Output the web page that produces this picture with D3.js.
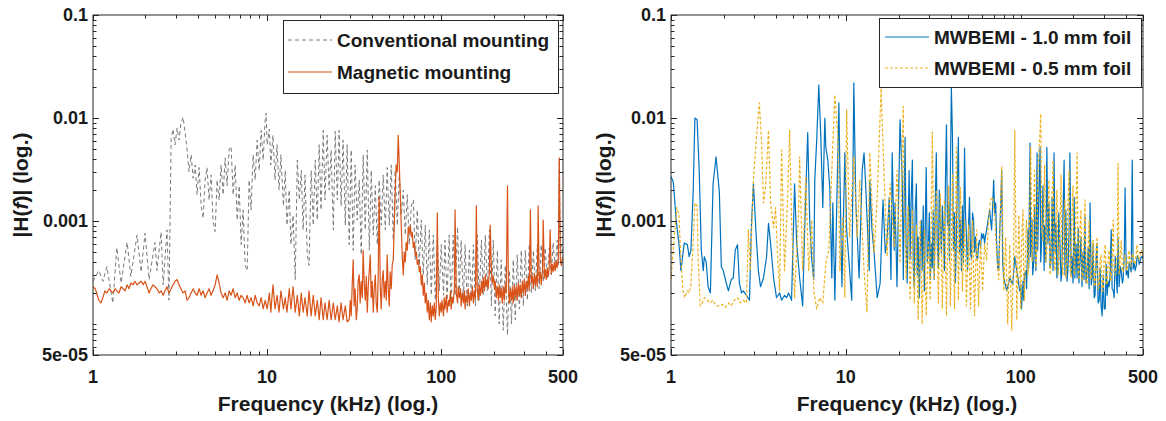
<!DOCTYPE html>
<html><head><meta charset="utf-8">
<script src="https://cdn.jsdelivr.net/npm/d3@7"></script>
<style>
body{margin:0;background:#fff}
svg{display:block}
text{font-family:"Liberation Sans",Arial,sans-serif;font-weight:bold;fill:#1a1a1a}
</style>
</head><body>
<svg id="chart" width="1166" height="421"></svg>
<script>
// Each point: [frequency in kHz, |H(f)| in units of 1e-4]
const conventional = [[1,2.6],[1.08,3.3],[1.14,2.6],[1.2,3.6],[1.3,1.6],[1.37,5.5],[1.45,2.5],[1.57,6.2],[1.65,2.9],[1.79,7.3],[1.89,3.2],[1.99,7.6],[2.1,2.7],[2.27,6.2],[2.33,3.3],[2.46,7.8],[2.53,2.4],[2.66,8.2],[2.73,1.7],[2.81,63],[2.88,78],[2.96,55],[3.04,80],[3.12,61],[3.2,90],[3.29,102],[3.38,72],[3.47,49],[3.56,30],[3.66,44],[3.76,26],[3.86,35],[3.96,18],[4.07,33],[4.18,14],[4.29,10.6],[4.4,25],[4.52,33],[4.64,16],[4.77,28],[4.89,10],[5.03,7.9],[5.16,25],[5.3,16],[5.44,35],[5.59,18],[5.74,41],[5.89,22],[6.05,49],[6.21,53],[6.38,18],[6.55,35],[6.73,10.2],[6.91,22],[7.09,5.9],[7.28,12.8],[7.48,3.7],[7.68,3.3],[7.88,25],[8.09,12.8],[8.31,44],[8.54,25],[8.76,61],[9,31],[9.24,76],[9.49,39],[9.74,96],[9.87,112],[10,55],[10.3,78],[10.5,35],[10.8,68],[11.1,25],[11.4,55],[11.7,20],[12,44],[12.4,14],[12.7,31],[13,9.1],[13.4,20],[13.7,5.9],[14.1,11.4],[14.5,2.7],[14.9,39],[15.3,16],[15.7,31],[16.1,8.2],[16.5,28],[17,4.7],[17.4,3.7],[17.9,31],[18.4,9.1],[18.9,39],[19.4,10.2],[19.9,55],[20.4,12.8],[21,76],[21.5,16],[22.1,68],[22.7,20],[23.3,49],[24,8.2],[24.6,74],[25.3,16],[25.9,76],[26.6,14],[27.3,61],[28.1,9.1],[28.8,55],[29.6,5.9],[30.4,49],[31.2,5.2],[32,35],[32.9,10.2],[33.8,25],[34.7,4.7],[35.6,44],[36.6,8.2],[37.6,49],[38.6,5.2],[39.6,31],[40.7,7.3],[41.8,22],[42.9,5.9],[44,25],[45.2,9.1],[46.4,28],[47.7,8.2],[48.9,33],[50.3,9.1],[51.6,35],[53,6.5],[54.4,31],[55.9,9.1],[57.4,28],[58.9,11.4],[60.5,20],[62.1,7.3],[63.8,18],[65.5,5.9],[67.3,14],[69.1,16],[70.9,4.2],[72.8,12.8],[74.8,3.7],[76.8,10.2],[78.8,3],[80.9,9.1],[83.1,2.4],[85.4,8.2],[87.6,1.9],[90,7.3],[92.4,1.7],[94.9,6.5],[97.4,2.1],[100,5.9],[103,1.9],[105,6.5],[108,1.7],[111,7.3],[114,1.5],[117,7.3],[120,1.9],[124,8.7],[127,2.1],[130,6.5],[134,1.7],[137,5.9],[141,1.5],[145,5.2],[149,1.7],[153,5.9],[157,1.5],[161,7.3],[165,1.7],[170,6.5],[174,1.9],[179,7.3],[184,2.1],[189,8.2],[194,1.5],[199,6.5],[204,1.2],[210,5.2],[215,1],[221,4.2],[227,0.87],[233,3.7],[240,0.78],[246,3.3],[253,1],[259,4.2],[266,1.1],[273,4.7],[281,1.4],[288,5.2],[296,1.5],[304,5.2],[312,1.7],[320,5.9],[329,2],[338,5.2],[347,2.1],[356,5.9],[365,2.2],[375,5.9],[385,2.6],[395,5.5],[406,2.8],[417,5.5],[428,3],[439,6.2],[451,3.3],[463,6.5],[470,3.7],[476,39],[483,4.2],[489,5.9],[500,4.7]];

const magnetic = [[1,2.3],[1.03,2.2],[1.05,2],[1.08,1.7],[1.11,1.6],[1.14,1.8],[1.17,2.1],[1.2,2],[1.24,2.2],[1.27,2.1],[1.3,2],[1.34,2.2],[1.37,2.1],[1.41,2],[1.45,2.3],[1.49,2.2],[1.53,2.1],[1.57,2.4],[1.61,2.2],[1.65,2.5],[1.7,2.4],[1.74,2.6],[1.79,2.4],[1.84,2.5],[1.89,2.6],[1.94,2.4],[1.99,2.6],[2.04,2.3],[2.1,2],[2.15,2.2],[2.21,2.4],[2.27,2.3],[2.33,2.2],[2.4,2],[2.46,2.1],[2.53,1.9],[2.59,2.1],[2.66,2.3],[2.73,2],[2.81,2.2],[2.88,2.4],[2.96,2.6],[3.04,2.7],[3.12,2.4],[3.2,2.2],[3.29,2],[3.38,2.1],[3.47,1.7],[3.56,1.8],[3.66,2],[3.76,2.2],[3.86,2],[3.96,1.9],[4.07,2.2],[4.18,1.9],[4.29,2.1],[4.4,1.8],[4.52,2],[4.64,2.2],[4.77,1.9],[4.89,2.1],[5.03,2.4],[5.16,3],[5.3,2.5],[5.44,2],[5.59,1.8],[5.74,2],[5.89,1.7],[6.05,2.1],[6.21,1.9],[6.38,2.2],[6.55,1.8],[6.73,2],[6.91,1.7],[7.09,1.9],[7.28,1.8],[7.48,1.6],[7.68,1.9],[7.88,1.6],[8.09,1.8],[8.31,1.5],[8.54,1.9],[8.76,1.6],[9,1.5],[9.24,1.8],[9.49,1.4],[9.74,1.7],[10,1.4],[10.3,2],[10.5,1.3],[10.8,2.4],[11.1,1.4],[11.4,1.9],[11.7,1.3],[12,2.1],[12.4,1.4],[12.7,1.8],[13,1.3],[13.4,2.2],[13.7,1.4],[14.1,2.3],[14.5,1.3],[14.9,1.9],[15.3,1.2],[15.7,2],[16.1,1.3],[16.5,1.8],[17,1.2],[17.4,2.1],[17.9,1.2],[18.4,1.9],[18.9,1.2],[19.4,1.7],[19.9,1.1],[20.4,1.8],[21,1.1],[21.5,1.6],[22.1,1.1],[22.7,1.7],[23.3,1.1],[24,1.6],[24.6,1.1],[25.3,1.5],[25.9,1.05],[26.6,1.6],[27.3,1.1],[28.1,1.5],[28.8,1.05],[29.6,1.1],[30,1.7],[30.4,1.2],[30.8,2.4],[31.2,4.2],[31.6,1.5],[32,2.2],[32.5,1.1],[32.9,1.4],[33.3,2.6],[33.8,3],[34.2,1.6],[34.7,2.6],[35.2,1.8],[35.6,5.2],[36.1,2.5],[36.6,1.7],[37.1,2.9],[37.6,1.3],[38.1,2.4],[38.6,3.3],[39.1,4.7],[39.6,1.8],[40.1,2.6],[40.7,1.3],[41.2,2.2],[41.8,3],[42.3,1.6],[42.9,1.3],[43.4,2.8],[44,17],[44.6,2.4],[45.2,1.4],[45.8,2.7],[46.4,3.3],[47,1.8],[47.7,2.6],[48.3,1.7],[48.9,4.7],[49.6,2.2],[50.3,1.5],[50.9,3.2],[51.6,2.2],[52.3,3.8],[53,4.2],[53.7,9],[54.4,20],[55.1,35],[55.9,30],[56.6,68],[57.4,35],[58.1,19],[58.9,9],[59.7,4.5],[60.5,3],[61.3,5],[62.1,4],[62.9,6.2],[63.8,5.2],[64.6,8.7],[65.5,7.6],[66.4,9.1],[67.3,7],[68.1,7.8],[69.1,5.5],[70,6.2],[70.9,4.6],[71.9,5],[72.8,3.8],[73.8,4.2],[74.8,3.2],[75.8,3.6],[76.8,2.4],[77.8,3],[78.8,1.9],[79.9,2.5],[80.9,1.6],[82,2],[83.1,1.3],[84.2,1.7],[85.4,1.1],[86.5,1.6],[87.6,1.05],[88.8,1.5],[90,1.2],[91.2,1.6],[92.4,1.1],[93.6,1.5],[94.9,12],[96.1,1.8],[97.4,1.2],[98.7,1.6],[100,1.3],[101,1.7],[103,1.2],[104,1.8],[105,1.4],[107,1.9],[108,1.3],[110,1.7],[111,1.5],[113,2.1],[114,1.4],[116,1.8],[117,1.6],[119,2.2],[120,12.8],[122,2],[124,1.6],[125,2.3],[127,1.8],[129,2.2],[130,1.5],[132,2],[134,1.6],[136,2.1],[137,1.4],[139,1.9],[141,1.6],[143,2.2],[145,1.5],[147,2],[149,1.7],[151,2.3],[153,1.6],[155,2.1],[157,1.8],[159,14],[161,2.2],[163,1.7],[165,2.4],[168,1.9],[170,2.6],[172,2],[174,2.8],[177,2.1],[179,3],[181,2.3],[184,2.7],[186,2.2],[189,3.3],[191,9.1],[194,3.4],[196,2.5],[199,2.9],[202,2.2],[204,2.6],[207,1.8],[210,2.3],[213,1.7],[215,2.4],[218,1.8],[221,2.2],[224,1.6],[227,2.3],[230,1.7],[233,2.4],[236,2],[240,22],[243,2.3],[246,1.6],[249,2.2],[253,1.7],[256,2.3],[259,1.6],[263,2.4],[266,1.8],[270,2.3],[273,1.7],[277,2.5],[281,1.9],[284,2.4],[288,1.8],[292,2.6],[296,2],[300,2.7],[304,1.9],[308,2.6],[312,2.2],[316,2.9],[320,2.1],[325,12.8],[329,2.5],[333,2.9],[338,2.2],[342,3.1],[347,2.4],[352,3],[356,2.3],[360,14],[365,2.6],[371,3.2],[375,2.4],[381,3.3],[385,10.2],[391,2.8],[395,3.4],[401,2.7],[406,3.5],[412,2.9],[417,3.6],[422,8.2],[428,3.1],[434,3.8],[439,3.2],[446,4],[451,3.3],[458,4.1],[463,3.5],[470,4.3],[476,41],[483,4.2],[489,3.7],[496,4.4],[500,4.5]];

const foil10 = [[1,27],[1.03,24],[1.05,16],[1.07,10.2],[1.11,6.1],[1.14,3.3],[1.19,6.1],[1.24,5.9],[1.27,4.5],[1.3,5.2],[1.34,20],[1.37,100],[1.41,96],[1.45,31],[1.49,5.2],[1.53,3.3],[1.55,4.5],[1.59,4],[1.63,2.3],[1.68,2],[1.74,23],[1.81,42],[1.89,19],[1.94,3.6],[1.99,3.3],[2.07,2.5],[2.13,2.1],[2.21,2.7],[2.27,2.8],[2.33,5.2],[2.4,5.9],[2.46,2.5],[2.53,2],[2.59,2.1],[2.7,1.9],[2.81,1.7],[2.88,8.6],[2.96,23],[3,15],[3.08,6.5],[3.16,3.3],[3.25,2.3],[3.38,2.8],[3.52,4.5],[3.61,9.5],[3.71,6.1],[3.86,2.8],[4.01,1.8],[4.18,2],[4.29,1.7],[4.46,1.9],[4.58,1.8],[4.7,2],[4.89,1.7],[5.09,23],[5.23,6.1],[5.44,2.8],[5.66,1.5],[5.81,8.2],[6.05,72],[6.21,10.2],[6.38,4.2],[6.55,2.7],[6.64,25],[6.81,61],[7,209],[7.19,65],[7.38,13.5],[7.58,100],[7.68,52],[7.88,39],[8.09,21],[8.31,2.8],[8.42,15],[8.65,1.7],[8.88,16],[9.12,140],[9.24,31],[9.49,2.3],[9.87,46],[10.1,8.2],[10.4,4.2],[10.8,1.7],[11.1,219],[11.4,15],[11.9,2.8],[12.4,31],[12.7,46],[13,21],[13.6,3.3],[13.7,25],[14.1,8.2],[14.5,4.9],[15.1,1.8],[15.7,2.5],[16.3,16],[16.8,4.9],[17.2,6.5],[17.7,17],[18.1,2.7],[18.4,46],[18.9,5.2],[19.1,15],[19.6,2.3],[20.4,96],[21,25],[21.3,2.7],[21.5,12],[21.8,65],[22.1,6],[22.4,2.5],[22.7,9],[23,31],[23.3,4.2],[23.6,15],[24,39],[24.3,3.5],[24.6,2.3],[24.9,12],[25.3,23],[25.6,3],[25.9,7],[26.3,1.8],[26.6,5],[27,10.2],[27.3,3.3],[27.7,14],[28.1,2.1],[28.4,8],[28.8,33],[29.2,4],[29.6,5.2],[30,12],[30.4,2.7],[30.8,6],[31.2,3.5],[31.6,12.8],[32,2.7],[32.5,18],[32.9,46],[33.3,6],[33.8,3.5],[34.2,20],[34.7,9],[35.2,4.9],[35.6,14],[36.1,8.2],[36.6,3.3],[37.1,25],[37.6,86],[38.1,9],[38.6,15],[39.1,4.2],[39.6,30],[40.1,200],[40.7,65],[41.2,5.2],[41.8,12],[42.3,2.5],[42.9,8],[43.4,25],[44,65],[44.6,5],[45.2,10.2],[45.8,3.3],[46.4,14],[47,4],[47.7,51],[48.3,12],[48.9,7],[49.6,3.3],[50.3,9],[50.9,17],[51.6,5],[52.3,4.2],[53,12],[53.7,10.2],[54.4,5],[55.1,7],[55.9,4.5],[56.6,4.2],[57.4,6],[58.1,6.5],[58.9,5.5],[59.7,7.6],[60.5,6.8],[61.3,7.5],[62.1,6.1],[62.9,7.2],[63.8,8.2],[64.6,9.5],[65.5,11],[66.4,12.8],[67.3,10],[68.1,8.2],[69.1,14],[70,25],[70.9,12],[71.9,15],[72.8,6],[73.8,3.5],[74.8,3.3],[75.8,8],[76.8,14],[77.8,31],[78.8,4],[79.9,2.8],[83.1,2.1],[86.5,2.8],[90,2.4],[92.4,4.5],[94.9,3.3],[98.7,2.1],[100,2.4],[101,1.4],[103,2.6],[104,1.7],[105,3],[107,3.3],[108,2.2],[110,8.2],[111,3.5],[113,57],[114,4.5],[116,10.2],[117,3],[119,4.2],[120,14],[122,3.3],[124,46],[125,5.2],[127,20],[129,52],[130,4],[132,7],[134,22],[136,3.3],[137,9],[139,4],[141,52],[143,6],[145,15],[147,3.5],[149,4.2],[151,17],[153,3.3],[155,46],[157,5],[159,9.5],[161,2.8],[163,3.3],[165,12],[168,5.2],[170,2.6],[172,3.3],[174,10],[177,39],[179,3],[181,12.8],[184,2.6],[186,3.3],[189,8],[191,46],[194,3],[196,4.5],[199,2.5],[202,17],[204,2.8],[207,6],[210,2.8],[213,8.5],[215,2.5],[218,4],[221,7],[224,2.3],[227,5],[230,2.7],[233,11],[236,2.5],[240,3.3],[243,5.5],[246,2.2],[249,15],[253,2.4],[256,2.8],[259,6],[263,1.8],[266,1.9],[270,4.5],[273,6.1],[277,1.6],[281,1.7],[284,3.5],[288,1.5],[292,1.2],[296,3],[300,1.4],[304,1.4],[308,3.8],[312,1.9],[316,2.6],[320,2.3],[325,3.3],[329,8.2],[333,2.2],[338,2.1],[342,1.8],[347,4.5],[352,2.8],[356,2],[360,7],[365,2.3],[371,3.6],[375,3.3],[381,2.5],[385,2.7],[391,5],[395,21],[401,3],[406,3.3],[412,2.8],[417,4],[422,3.6],[428,3.2],[434,39],[439,3.4],[446,3.9],[451,3.3],[458,3.7],[463,4.6],[470,4.3],[476,3.8],[483,4.2],[489,4.5],[496,4.4],[500,4.8]];

const foil05 = [[1,2.7],[1.04,6.5],[1.08,13.5],[1.11,11.4],[1.14,4.2],[1.17,2.1],[1.2,1.8],[1.24,2.1],[1.27,2],[1.3,2.4],[1.34,6.5],[1.37,15],[1.41,14],[1.43,4.2],[1.47,1.5],[1.51,1.6],[1.55,1.8],[1.61,1.7],[1.68,1.6],[1.74,1.7],[1.81,1.5],[1.89,1.5],[1.96,1.55],[2.04,1.45],[2.13,1.6],[2.21,1.5],[2.3,1.7],[2.4,1.8],[2.49,1.6],[2.59,1.7],[2.7,1.6],[2.77,8.2],[2.84,3.3],[2.96,25],[3.08,65],[3.2,140],[3.29,61],[3.38,15],[3.47,21],[3.61,76],[3.71,15],[3.86,8.6],[3.96,13.5],[4.07,4.5],[4.18,2.1],[4.29,49],[4.46,3.3],[4.64,16],[4.77,76],[4.89,10.2],[5.09,1.8],[5.37,12.8],[5.44,42],[5.66,3.3],[5.89,27],[6.13,3.3],[6.38,10.2],[6.55,2.1],[6.81,1.4],[7.09,1.8],[7.38,1.6],[7.68,3.9],[7.99,5.2],[8.31,31],[8.65,168],[9,65],[9.24,3.3],[9.61,11],[9.87,1.8],[10.1,120],[10.5,7],[11.1,42],[11.6,7],[12,25],[12.7,3.3],[13.2,1.3],[13.7,46],[14.5,4.9],[15.1,17],[15.9,195],[16.5,31],[17.2,4.5],[17.9,23],[18.9,5.6],[19.6,31],[20.4,3.9],[21,49],[21.3,130],[21.5,16],[22.1,2.8],[22.7,14],[23.3,1.7],[24,12.8],[24.6,1.6],[25.3,9.1],[25.9,1.1],[26.6,10.2],[27.3,1],[28.1,8.2],[28.8,1.2],[29.6,6.5],[30.4,1.7],[31.2,73],[32,2.7],[32.9,20],[33.8,1.6],[34.7,18],[35.6,1.4],[36.6,16],[37.6,1.2],[38.6,22],[39.6,1.5],[40.7,28],[41.8,1.4],[42.9,52],[44,1.7],[45.2,21],[46.4,2.1],[47.7,10.2],[48.9,1.5],[50.3,9.1],[51.6,1.4],[53,10.2],[54.4,1.2],[55.9,8.2],[57.4,1.5],[58.9,6.5],[60.5,2.1],[62.1,5.9],[63.8,4.2],[65.5,10.2],[67.3,16],[69.1,17],[70.9,11.4],[72.8,4.9],[74.8,2.7],[76.8,16],[77.8,34],[79.9,2.1],[82,7],[84.2,1],[86.5,5.9],[88.8,0.87],[91.2,5.2],[92.4,76],[94.9,1.1],[97.4,11.4],[100,1.4],[101,6],[103,12.8],[104,2.5],[105,1.7],[107,8],[108,10.2],[110,3],[111,4.2],[113,20],[114,52],[116,4],[117,6.1],[119,15],[120,31],[122,3.5],[124,5.9],[125,25],[127,49],[129,76],[130,110],[132,8],[134,6.5],[136,20],[137,35],[139,4],[141,5.2],[143,14],[145,25],[147,3],[149,3.7],[151,18],[153,39],[155,4],[157,3.3],[159,9],[161,20],[163,3],[165,3.7],[168,12],[170,28],[172,4],[174,3],[177,9],[179,16],[181,2.8],[184,3.7],[186,14],[189,31],[191,3.5],[194,2.8],[196,10],[199,22],[202,3],[204,3.3],[207,15],[210,46],[213,3.2],[215,2.7],[218,8],[221,12.8],[224,2.6],[227,3],[230,7],[233,16],[236,2.5],[240,2.5],[243,6],[246,10.2],[249,2.8],[253,2.7],[256,5],[259,6.5],[263,2.3],[266,2.4],[270,5.5],[273,7],[277,2.2],[281,2.3],[284,4],[288,4.7],[292,2.1],[296,2.1],[300,4.5],[304,5.9],[308,2.4],[312,2.5],[316,4.2],[320,5.2],[325,2.6],[329,2.7],[333,5],[338,10.2],[342,3.2],[347,3],[352,4],[356,4.7],[360,36],[365,3],[371,4.5],[375,6.5],[381,3.3],[385,3.2],[391,4.3],[395,4.7],[401,3.4],[406,3.3],[412,4.6],[417,5.2],[422,3.6],[428,3.7],[434,4.8],[439,4.7],[446,3.8],[451,3.9],[458,5],[463,5.9],[470,4.2],[476,4.3],[483,5],[489,5.2],[496,4.6],[500,5]];

const xTickLabels = [1, 10, 100, 500];
const yTickLabels = [5e-5, 0.001, 0.01, 0.1];
const yTickText = ["5e-05", "0.001", "0.01", "0.1"];
const seriesNames = ["Conventional mounting", "Magnetic mounting", "MWBEMI - 1.0 mm foil", "MWBEMI - 0.5 mm foil"];
const UNIT = 1e-4;

const svg = d3.select("#chart");
svg.append("rect").attr("width",1166).attr("height",421).attr("fill","#fff");
const AX = "#262626";
const plotTop = 15, plotBottom = 355;

const panels = [
  { left:93, right:563, titleX:28,
    series:[
      {data:conventional, color:"#7a7a7a", dash:"4,3", w:1, name:seriesNames[0]},
      {data:magnetic, color:"#D95319", dash:null, w:1.2, name:seriesNames[1]}],
    legend:{x:283, y:20, w:275, h:73, rows:[40,72], lx:[288,332], tx:337}},
  { left:671, right:1143, titleX:611,
    series:[
      {data:foil10, color:"#0072BD", dash:null, w:1.2, name:seriesNames[2]},
      {data:foil05, color:"#EDB120", dash:"3,2", w:1.2, name:seriesNames[3]}],
    legend:{x:879, y:18, w:262, h:69, rows:[37,68], lx:[885,929], tx:934}}
];

panels.forEach((p, i) => {
  const x = d3.scaleLog().domain([1,500]).range([p.left, p.right]);
  const y = d3.scaleLog().domain([5e-5,0.1]).range([plotBottom, plotTop]);
  const g = svg.append("g");
  const cid = "clip"+i;
  g.append("clipPath").attr("id",cid).append("rect")
    .attr("x",p.left).attr("y",plotTop).attr("width",p.right-p.left).attr("height",plotBottom-plotTop);
  const line = d3.line().x(d => x(d[0])).y(d => y(d[1]*UNIT));
  p.series.forEach(s => {
    g.append("path").datum(s.data).attr("clip-path",`url(#${cid})`)
      .attr("d", line).attr("fill","none").attr("stroke", s.color)
      .attr("stroke-width", s.w).attr("stroke-dasharray", s.dash)
      .attr("stroke-linejoin","round");
  });
  g.append("rect").attr("x",p.left).attr("y",plotTop).attr("width",p.right-p.left).attr("height",plotBottom-plotTop)
    .attr("fill","none").attr("stroke",AX).attr("stroke-width",1);
  x.ticks().forEach(t => {
    const major = xTickLabels.includes(t);
    const L = major ? 6 : 3.5;
    const px = Math.round(x(t)) + 0.5;
    g.append("line").attr("x1",px).attr("x2",px).attr("y1",plotBottom).attr("y2",plotBottom-L).attr("stroke",AX);
    g.append("line").attr("x1",px).attr("x2",px).attr("y1",plotTop).attr("y2",plotTop+L).attr("stroke",AX);
  });
  y.ticks().forEach(t => {
    const major = yTickLabels.some(v => Math.abs(v-t)/v < 1e-6);
    const L = major ? 6 : 3.5;
    const py = Math.round(y(t)) + 0.5;
    g.append("line").attr("x1",p.left).attr("x2",p.left+L).attr("y1",py).attr("y2",py).attr("stroke",AX);
    g.append("line").attr("x1",p.right).attr("x2",p.right-L).attr("y1",py).attr("y2",py).attr("stroke",AX);
  });
  xTickLabels.forEach(t => {
    g.append("text").attr("x",x(t)).attr("y",383).attr("text-anchor","middle")
      .attr("font-size",18).text(t);
  });
  yTickLabels.forEach((t,k) => {
    g.append("text").attr("x",p.left-5).attr("y",y(t)).attr("dy","0.36em").attr("text-anchor","end")
      .attr("font-size",18).text(yTickText[k]);
  });
  g.append("text").attr("x",(p.left+p.right)/2).attr("y",411).attr("text-anchor","middle")
    .attr("font-size",21).text("Frequency (kHz) (log.)");
  const yt = g.append("text").attr("transform",`translate(${p.titleX},${(plotTop+plotBottom)/2}) rotate(-90)`)
    .attr("text-anchor","middle").attr("font-size",21);
  yt.append("tspan").text("|H(");
  yt.append("tspan").attr("font-style","italic").text("f");
  yt.append("tspan").text(")| (log.)");
  const lg = p.legend;
  g.append("rect").attr("x",lg.x+0.5).attr("y",lg.y+0.5).attr("width",lg.w).attr("height",lg.h)
    .attr("fill","#fff").attr("stroke",AX).attr("stroke-width",1);
  p.series.forEach((s,k) => {
    const ry = lg.rows[k];
    g.append("line").attr("x1",lg.lx[0]).attr("x2",lg.lx[1]).attr("y1",ry).attr("y2",ry)
      .attr("stroke",s.color).attr("stroke-width",s.w).attr("stroke-dasharray",s.dash);
    g.append("text").attr("x",lg.tx).attr("y",ry+7).attr("font-size",19).text(s.name);
  });
});
</script>
</body></html>
